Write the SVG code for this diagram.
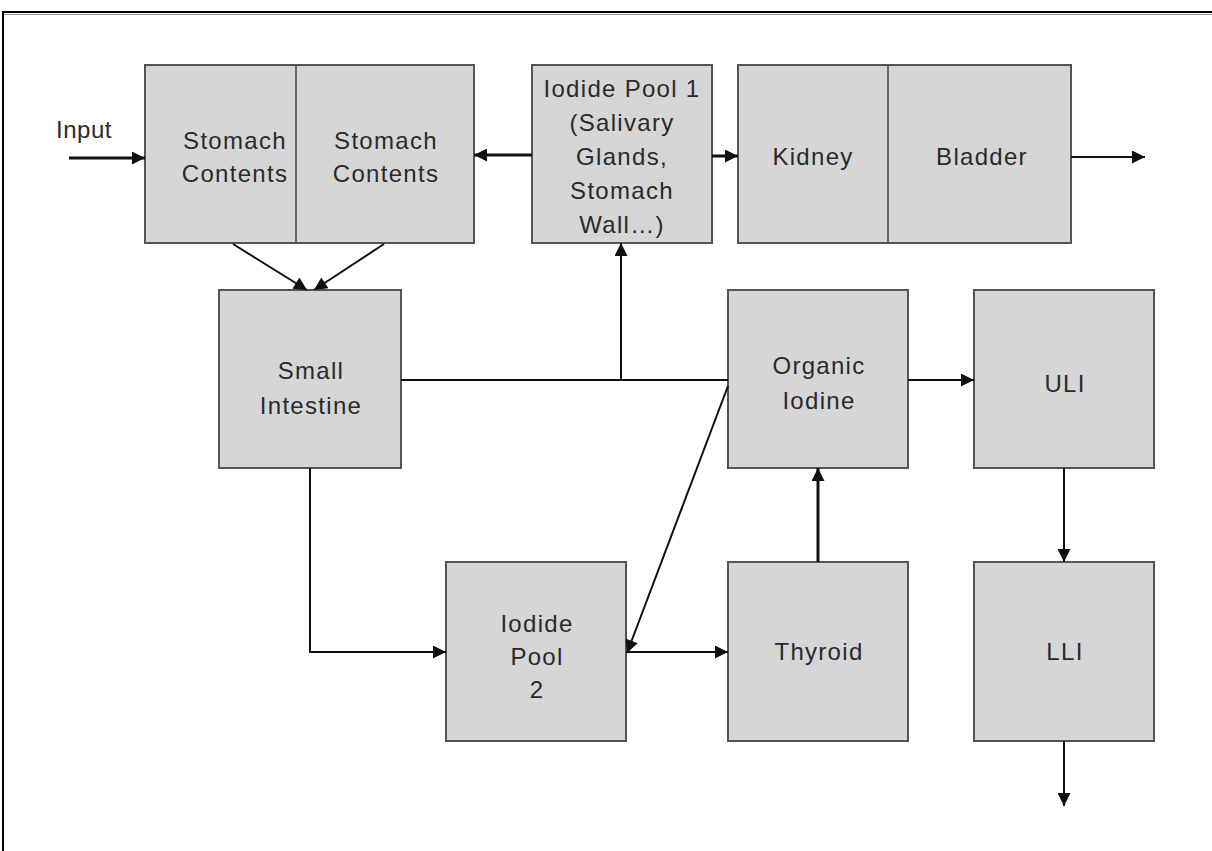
<svg xmlns="http://www.w3.org/2000/svg" width="1212" height="851" viewBox="0 0 1212 851">
<style>
.box{fill:#d6d6d6;stroke:#555;stroke-width:2}
.div{stroke:#444;stroke-width:1.5}
.t{font-family:"Liberation Sans",Arial,sans-serif;font-size:24px;letter-spacing:1.3px;fill:#2a2a2a;text-anchor:middle}
.c{fill:none;stroke:#111;stroke-width:2}
.ct{fill:none;stroke:#111;stroke-width:3}
</style>
<defs>
<marker id="ah" viewBox="0 0 10 10" refX="10" refY="5" markerWidth="16" markerHeight="13" markerUnits="userSpaceOnUse" orient="auto">
<path d="M0,0 L10,5 L0,10 Z" fill="#111"/>
</marker>
</defs>
<rect x="0" y="0" width="1212" height="851" fill="#fff"/>
<rect x="3" y="12" width="1240" height="880" fill="none" stroke="#000" stroke-width="2"/>
<line x1="4" y1="14.5" x2="1212" y2="14.5" stroke="#999" stroke-width="1"/>

<g id="stomach">
<rect class="box" x="145" y="65" width="329" height="178"/>
<line class="div" x1="296" y1="65" x2="296" y2="243"/>
<text class="t" x="235" y="149">Stomach</text>
<text class="t" x="235" y="182">Contents</text>
<text class="t" x="386" y="149">Stomach</text>
<text class="t" x="386" y="182">Contents</text>
</g>
<g id="iodide-pool-1">
<rect class="box" x="532" y="65" width="180" height="178"/>
<text class="t" x="622" y="97">Iodide Pool 1</text>
<text class="t" x="622" y="131">(Salivary</text>
<text class="t" x="622" y="165">Glands,</text>
<text class="t" x="622" y="199">Stomach</text>
<text class="t" x="622" y="233">Wall…)</text>
</g>
<g id="kidney-bladder">
<rect class="box" x="738" y="65" width="333" height="178"/>
<line class="div" x1="888" y1="65" x2="888" y2="243"/>
<text class="t" x="813" y="165">Kidney</text>
<text class="t" x="982" y="165">Bladder</text>
</g>
<g id="small-intestine">
<rect class="box" x="219" y="290" width="182" height="178"/>
<text class="t" x="311" y="379">Small</text>
<text class="t" x="311" y="414">Intestine</text>
</g>
<g id="organic-iodine">
<rect class="box" x="728" y="290" width="180" height="178"/>
<text class="t" x="819" y="374">Organic</text>
<text class="t" x="819" y="409">Iodine</text>
</g>
<g id="uli">
<rect class="box" x="974" y="290" width="180" height="178"/>
<text class="t" x="1065" y="392">ULI</text>
</g>
<g id="iodide-pool-2">
<rect class="box" x="446" y="562" width="180" height="179"/>
<text class="t" x="537" y="632">Iodide</text>
<text class="t" x="537" y="665">Pool</text>
<text class="t" x="537" y="698">2</text>
</g>
<g id="thyroid">
<rect class="box" x="728" y="562" width="180" height="179"/>
<text class="t" x="819" y="660">Thyroid</text>
</g>
<g id="lli">
<rect class="box" x="974" y="562" width="180" height="179"/>
<text class="t" x="1065" y="660">LLI</text>
</g>
<text class="t" x="84" y="138" style="letter-spacing:0.5px">Input</text>

<g id="connectors">
<line class="ct" x1="69" y1="158" x2="145" y2="158" marker-end="url(#ah)"/>
<line class="ct" x1="532" y1="155" x2="474" y2="155" marker-end="url(#ah)"/>
<line class="ct" x1="712" y1="156" x2="738" y2="156" marker-end="url(#ah)"/>
<line class="c" x1="1071" y1="157" x2="1145" y2="157" marker-end="url(#ah)"/>
<line class="c" x1="233" y1="244" x2="307" y2="290" marker-end="url(#ah)"/>
<line class="c" x1="384" y1="244" x2="314" y2="290" marker-end="url(#ah)"/>
<polyline class="c" points="401,380 728,380"/>
<line class="c" x1="621" y1="380" x2="621" y2="243" marker-end="url(#ah)"/>
<line class="c" x1="728" y1="386" x2="627" y2="653" marker-end="url(#ah)"/>
<polyline class="c" points="310,468 310,652 446,652" marker-end="url(#ah)"/>
<line class="c" x1="626" y1="652" x2="728" y2="652" marker-end="url(#ah)"/>
<line class="ct" x1="818" y1="562" x2="818" y2="468" marker-end="url(#ah)"/>
<line class="c" x1="908" y1="380" x2="974" y2="380" marker-end="url(#ah)"/>
<line class="c" x1="1064" y1="468" x2="1064" y2="562" marker-end="url(#ah)"/>
<line class="c" x1="1064" y1="741" x2="1064" y2="806" marker-end="url(#ah)"/>
</g>
</svg>
